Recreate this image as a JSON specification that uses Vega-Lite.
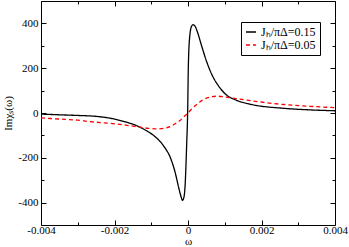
{
  "$schema": "https://vega.github.io/schema/vega-lite/v6.json",
  "width": 294,
  "height": 224,
  "autosize": "none",
  "padding": {"left": 41, "top": 1, "right": 14, "bottom": 22},
  "background": "white",
  "config": {
    "view": {"stroke": "black", "strokeWidth": 1},
    "font": "Liberation Serif",
    "axis": {
      "grid": false,
      "domain": false,
      "tickColor": "black",
      "labelColor": "black",
      "labelFont": "Liberation Serif",
      "labelFontSize": 11,
      "titleFont": "Liberation Serif",
      "titleFontSize": 11,
      "titleFontWeight": "normal",
      "titleColor": "black",
      "labelFlush": false,
      "labelOverlap": false
    },
    "legend": {
      "labelFont": "Liberation Serif"
    }
  },
  "data": {
    "values": [
      {"w": -0.004, "v": -5, "s": "Jₕ/πΔ=0.15"},
      {"w": -0.0035, "v": -8, "s": "Jₕ/πΔ=0.15"},
      {"w": -0.003, "v": -11, "s": "Jₕ/πΔ=0.15"},
      {"w": -0.0025, "v": -15, "s": "Jₕ/πΔ=0.15"},
      {"w": -0.002, "v": -27, "s": "Jₕ/πΔ=0.15"},
      {"w": -0.0017, "v": -40, "s": "Jₕ/πΔ=0.15"},
      {"w": -0.0015, "v": -50, "s": "Jₕ/πΔ=0.15"},
      {"w": -0.0013, "v": -64, "s": "Jₕ/πΔ=0.15"},
      {"w": -0.0011, "v": -82, "s": "Jₕ/πΔ=0.15"},
      {"w": -0.0009, "v": -105, "s": "Jₕ/πΔ=0.15"},
      {"w": -0.00076, "v": -127, "s": "Jₕ/πΔ=0.15"},
      {"w": -0.00063, "v": -155, "s": "Jₕ/πΔ=0.15"},
      {"w": -0.00049, "v": -195, "s": "Jₕ/πΔ=0.15"},
      {"w": -0.00035, "v": -265, "s": "Jₕ/πΔ=0.15"},
      {"w": -0.00024, "v": -342, "s": "Jₕ/πΔ=0.15"},
      {"w": -0.00018, "v": -378, "s": "Jₕ/πΔ=0.15"},
      {"w": -0.00015, "v": -390, "s": "Jₕ/πΔ=0.15"},
      {"w": -0.00012, "v": -382, "s": "Jₕ/πΔ=0.15"},
      {"w": -0.00008, "v": -327, "s": "Jₕ/πΔ=0.15"},
      {"w": -0.000035, "v": -135, "s": "Jₕ/πΔ=0.15"},
      {"w": -0.00001, "v": 0, "s": "Jₕ/πΔ=0.15"},
      {"w": 0.00001, "v": 213, "s": "Jₕ/πΔ=0.15"},
      {"w": 0.00005, "v": 347, "s": "Jₕ/πΔ=0.15"},
      {"w": 0.0001, "v": 388, "s": "Jₕ/πΔ=0.15"},
      {"w": 0.00014, "v": 394, "s": "Jₕ/πΔ=0.15"},
      {"w": 0.00019, "v": 388, "s": "Jₕ/πΔ=0.15"},
      {"w": 0.00026, "v": 360, "s": "Jₕ/πΔ=0.15"},
      {"w": 0.00037, "v": 300, "s": "Jₕ/πΔ=0.15"},
      {"w": 0.00051, "v": 228, "s": "Jₕ/πΔ=0.15"},
      {"w": 0.00064, "v": 175, "s": "Jₕ/πΔ=0.15"},
      {"w": 0.00087, "v": 112, "s": "Jₕ/πΔ=0.15"},
      {"w": 0.00105, "v": 80, "s": "Jₕ/πΔ=0.15"},
      {"w": 0.0013, "v": 58, "s": "Jₕ/πΔ=0.15"},
      {"w": 0.0017, "v": 39, "s": "Jₕ/πΔ=0.15"},
      {"w": 0.0026, "v": 21, "s": "Jₕ/πΔ=0.15"},
      {"w": 0.0033, "v": 14, "s": "Jₕ/πΔ=0.15"},
      {"w": 0.004, "v": 10, "s": "Jₕ/πΔ=0.15"},
      {"w": -0.004, "v": -22, "s": "Jₕ/πΔ=0.05"},
      {"w": -0.0035, "v": -27, "s": "Jₕ/πΔ=0.05"},
      {"w": -0.003, "v": -32, "s": "Jₕ/πΔ=0.05"},
      {"w": -0.0027, "v": -38, "s": "Jₕ/πΔ=0.05"},
      {"w": -0.002, "v": -48, "s": "Jₕ/πΔ=0.05"},
      {"w": -0.0017, "v": -54, "s": "Jₕ/πΔ=0.05"},
      {"w": -0.0014, "v": -61, "s": "Jₕ/πΔ=0.05"},
      {"w": -0.0011, "v": -68, "s": "Jₕ/πΔ=0.05"},
      {"w": -0.00085, "v": -71, "s": "Jₕ/πΔ=0.05"},
      {"w": -0.00065, "v": -68, "s": "Jₕ/πΔ=0.05"},
      {"w": -0.00049, "v": -61, "s": "Jₕ/πΔ=0.05"},
      {"w": -0.00035, "v": -48, "s": "Jₕ/πΔ=0.05"},
      {"w": -0.00022, "v": -34, "s": "Jₕ/πΔ=0.05"},
      {"w": -0.0001, "v": -15, "s": "Jₕ/πΔ=0.05"},
      {"w": 0.0, "v": 0, "s": "Jₕ/πΔ=0.05"},
      {"w": 0.0001, "v": 18, "s": "Jₕ/πΔ=0.05"},
      {"w": 0.00022, "v": 36, "s": "Jₕ/πΔ=0.05"},
      {"w": 0.0004, "v": 58, "s": "Jₕ/πΔ=0.05"},
      {"w": 0.0006, "v": 71, "s": "Jₕ/πΔ=0.05"},
      {"w": 0.0008, "v": 75, "s": "Jₕ/πΔ=0.05"},
      {"w": 0.00105, "v": 71, "s": "Jₕ/πΔ=0.05"},
      {"w": 0.0014, "v": 62, "s": "Jₕ/πΔ=0.05"},
      {"w": 0.0017, "v": 55, "s": "Jₕ/πΔ=0.05"},
      {"w": 0.0026, "v": 38, "s": "Jₕ/πΔ=0.05"},
      {"w": 0.0033, "v": 30, "s": "Jₕ/πΔ=0.05"},
      {"w": 0.004, "v": 24, "s": "Jₕ/πΔ=0.05"}
    ]
  },
  "layer": [
    {
      "mark": {"type": "line", "strokeWidth": 1.3, "interpolate": "monotone", "clip": true},
      "encoding": {
        "x": {
          "field": "w", "type": "quantitative",
          "scale": {"domain": [-0.004, 0.004], "nice": false, "zero": false},
          "axis": {
            "orient": "bottom",
            "values": [-0.004, -0.003, -0.002, -0.001, 0, 0.001, 0.002, 0.003, 0.004],
            "tickSize": {"condition": {"test": "abs(round(datum.value*1000)) % 2 == 1", "value": -3}, "value": -5},
            "labelPadding": 4,
            "labelExpr": "abs(round(datum.value*1000)) % 2 == 1 ? '' : (datum.value == 0 ? '0' : (datum.value < 0 ? '-' : '') + format(abs(datum.value), '.3f'))",
            "title": "ω",
            "titlePadding": -2
          }
        },
        "y": {
          "field": "v", "type": "quantitative",
          "scale": {"domain": [-500, 500], "nice": false},
          "axis": {
            "orient": "left",
            "values": [-400, -300, -200, -100, 0, 100, 200, 300, 400],
            "tickSize": {"condition": {"test": "abs(round(datum.value/100)) % 2 == 1", "value": -3}, "value": -5},
            "labelPadding": 8,
            "labelExpr": "abs(round(datum.value/100)) % 2 == 1 ? '' : (datum.value < 0 ? '-' : '') + format(abs(datum.value), 'd')",
            "title": "Imχₛ(ω)",
            "titlePadding": 4
          }
        },
        "color": {
          "field": "s", "type": "nominal",
          "scale": {"domain": ["Jₕ/πΔ=0.15", "Jₕ/πΔ=0.05"], "range": ["black", "red"]},
          "legend": {
            "orient": "none", "legendX": 200, "legendY": 21, "title": null,
            "strokeColor": "black", "fillColor": "white", "padding": 4,
            "symbolType": "stroke", "symbolSize": 100, "symbolStrokeWidth": 1.3,
            "labelFont": "Liberation Serif", "labelFontSize": 12, "labelColor": "black",
            "rowPadding": 1, "labelLimit": 200, "cornerRadius": 0
          }
        },
        "strokeDash": {
          "field": "s", "type": "nominal",
          "scale": {"domain": ["Jₕ/πΔ=0.15", "Jₕ/πΔ=0.05"], "range": [[1, 0], [4, 3]]},
          "legend": {
            "orient": "none", "legendX": 200, "legendY": 21, "title": null,
            "strokeColor": "black", "fillColor": "white", "padding": 4,
            "symbolType": "stroke", "symbolSize": 100, "symbolStrokeWidth": 1.3,
            "labelFont": "Liberation Serif", "labelFontSize": 12, "labelColor": "black",
            "rowPadding": 1, "labelLimit": 200, "cornerRadius": 0
          }
        }
      }
    },
    {
      "mark": {"type": "line", "strokeOpacity": 0},
      "encoding": {
        "x": {
          "field": "w", "type": "quantitative",
          "axis": {
            "orient": "top",
            "values": [-0.004, -0.003, -0.002, -0.001, 0, 0.001, 0.002, 0.003, 0.004],
            "tickSize": {"condition": {"test": "abs(round(datum.value*1000)) % 2 == 1", "value": -3}, "value": -5},
            "labels": false,
            "title": null
          }
        },
        "y": {
          "field": "v", "type": "quantitative",
          "axis": {
            "orient": "right",
            "values": [-400, -300, -200, -100, 0, 100, 200, 300, 400],
            "tickSize": {"condition": {"test": "abs(round(datum.value/100)) % 2 == 1", "value": -3}, "value": -5},
            "labels": false,
            "title": null
          }
        },
        "detail": {"field": "s", "type": "nominal"}
      }
    }
  ],
  "resolve": {"axis": {"x": "independent", "y": "independent"}}
}
